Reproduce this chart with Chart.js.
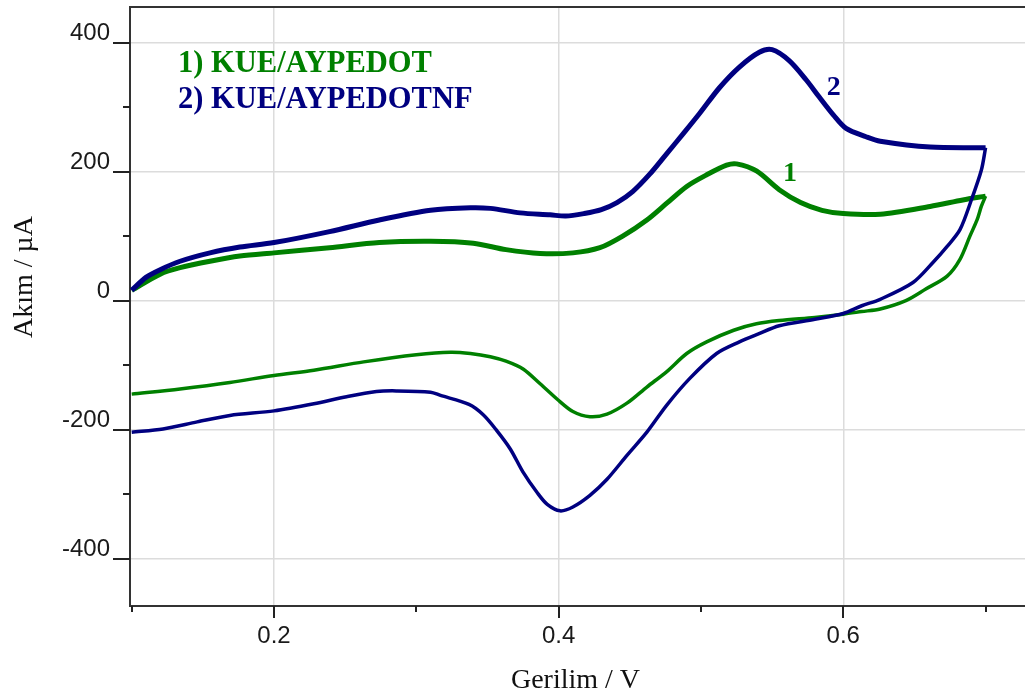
<!DOCTYPE html>
<html>
<head>
<meta charset="utf-8">
<script src="https://cdn.jsdelivr.net/npm/chart.js@4.4.1/dist/chart.umd.min.js"></script>
<style>
  html, body { margin: 0; padding: 0; background: #ffffff; overflow: hidden; }
  canvas { display: block; }
</style>
</head>
<body>
<canvas id="cv" width="1025" height="696"></canvas>
<script>
// Cyclic voltammograms: potential (V) and current (µA)
// Curve 2, KUE/AYPEDOTNF — anodic sweep
const nfFwdV = [0.100, 0.110, 0.120, 0.134, 0.155, 0.176, 0.200, 0.239, 0.274, 0.310, 0.338, 0.352, 0.373, 0.394, 0.405, 0.418, 0.430, 0.441, 0.452, 0.464, 0.476, 0.488, 0.499, 0.513, 0.527, 0.541, 0.550, 0.562, 0.574, 0.583, 0.593, 0.602, 0.616, 0.626, 0.661, 0.700];
const nfFwdI = [16, 36, 48, 61, 74, 83, 90, 107, 125, 140, 144, 143, 136, 133, 131, 135, 141, 152, 169, 196, 228, 260, 290, 330, 362, 385, 389, 372, 342, 316, 288, 267, 254, 247, 238, 237];
// Curve 2, KUE/AYPEDOTNF — cathodic sweep
const nfRevV = [0.700, 0.697, 0.690, 0.682, 0.673, 0.663, 0.649, 0.626, 0.613, 0.600, 0.580, 0.555, 0.540, 0.527, 0.511, 0.492, 0.476, 0.462, 0.448, 0.434, 0.422, 0.410, 0.401, 0.392, 0.385, 0.375, 0.366, 0.356, 0.347, 0.337, 0.317, 0.310, 0.286, 0.272, 0.251, 0.228, 0.200, 0.169, 0.146, 0.122, 0.100];
const nfRevI = [237, 202, 156, 110, 84, 59, 28, 2, -8, -20, -29, -39, -52, -64, -82, -121, -162, -204, -240, -277, -302, -320, -326, -316, -298, -266, -230, -200, -177, -161, -147, -142, -140, -141, -149, -160, -171, -178, -188, -199, -204];

// Curve 1, KUE/AYPEDOT — anodic sweep
const pFwdV = [0.100, 0.120, 0.134, 0.155, 0.176, 0.200, 0.239, 0.274, 0.310, 0.340, 0.363, 0.387, 0.410, 0.429, 0.445, 0.462, 0.476, 0.490, 0.504, 0.518, 0.525, 0.539, 0.555, 0.570, 0.585, 0.600, 0.626, 0.661, 0.684, 0.700];
const pFwdI = [16, 41, 51, 61, 69, 74, 82, 90, 92, 89, 79, 73, 74, 82, 100, 125, 151, 177, 195, 210, 212, 201, 172, 152, 140, 135, 134, 146, 156, 162];
// Curve 1, KUE/AYPEDOT — cathodic sweep
const pRevV = [0.700, 0.697, 0.694, 0.689, 0.682, 0.673, 0.658, 0.644, 0.626, 0.613, 0.600, 0.580, 0.555, 0.539, 0.523, 0.504, 0.490, 0.476, 0.462, 0.448, 0.434, 0.422, 0.410, 0.399, 0.387, 0.375, 0.363, 0.352, 0.338, 0.324, 0.300, 0.263, 0.228, 0.200, 0.169, 0.134, 0.100];
const pRevI = [162, 146, 125, 100, 64, 38, 18, 0, -13, -17, -21, -26, -31, -36, -46, -64, -82, -110, -134, -159, -176, -180, -172, -153, -129, -106, -94, -87, -82, -80, -84, -95, -108, -116, -127, -137, -145];

// Axis ticks (every tick gets a mark, labelled ones also get a grid line)
const xTicks = [0.1, 0.2, 0.3, 0.4, 0.5, 0.6, 0.7];
const xTickLabels = ['', '0.2', '', '0.4', '', '0.6', ''];
const yTicks = [-400, -300, -200, -100, 0, 100, 200, 300, 400];
const yTickLabels = ['-400', '', '-200', '', '0', '', '200', '', '400'];

const seriesNames = ['1) KUE/AYPEDOT', '2) KUE/AYPEDOTNF'];
const curveTags = ['1', '2'];
// where each curve tag sits, in data units (V, µA)
const curveTagV = [0.5577, 0.5884];
const curveTagI = [184.7, 318.8];

const GREEN = '#008000';
const NAVY = '#000080';

const toPoints = (xs, ys) => xs.map((x, i) => ({ x: x, y: ys[i] }));

const decorations = {
  id: 'decorations',
  afterDraw(chart) {
    const { ctx, chartArea: a, scales: { x, y } } = chart;
    ctx.save();
    // frame line along the top of the plot
    ctx.strokeStyle = '#333333';
    ctx.lineWidth = 2;
    ctx.beginPath();
    ctx.moveTo(a.left - 1, a.top);
    ctx.lineTo(a.right, a.top);
    ctx.stroke();

    // outward tick marks, long for labelled ticks, short otherwise
    ctx.strokeStyle = '#222222';
    ctx.lineWidth = 2;
    ctx.beginPath();
    x.ticks.forEach((t, i) => {
      const px = Math.round(x.getPixelForValue(t.value));
      const len = xTickLabels[i] ? 12 : 6;
      ctx.moveTo(px, a.bottom);
      ctx.lineTo(px, a.bottom + len);
    });
    y.ticks.forEach((t, i) => {
      const py = Math.round(y.getPixelForValue(t.value));
      const len = yTickLabels[i] ? 17 : 7;
      ctx.moveTo(a.left, py);
      ctx.lineTo(a.left - len, py);
    });
    ctx.stroke();

    // axis titles
    ctx.fillStyle = '#111111';
    ctx.font = '28px "Liberation Serif"';
    ctx.textAlign = 'center';
    ctx.textBaseline = 'alphabetic';
    ctx.fillText('Gerilim / V', (a.left + a.right) / 2 - 2, 688);
    ctx.save();
    ctx.translate(32, 277);
    ctx.rotate(-Math.PI / 2);
    ctx.fillText('Akım / µA', 0, 0);
    ctx.restore();

    // series captions
    ctx.textAlign = 'left';
    ctx.font = 'bold 30.5px "Liberation Serif"';
    ctx.fillStyle = GREEN;
    ctx.fillText(seriesNames[0], a.left + 48, 72);
    ctx.fillStyle = NAVY;
    ctx.fillText(seriesNames[1], a.left + 48, 108);

    // curve tags
    ctx.font = 'bold 28px "Liberation Serif"';
    [GREEN, NAVY].forEach((c, i) => {
      ctx.fillStyle = c;
      ctx.fillText(curveTags[i], x.getPixelForValue(curveTagV[i]), y.getPixelForValue(curveTagI[i]));
    });
    ctx.restore();
  }
};

const line = (data, color, width) => ({
  data: data,
  showLine: true,
  borderColor: color,
  backgroundColor: color,
  borderWidth: width,
  pointRadius: 0,
  tension: 0.3,
  fill: false
});

new Chart(document.getElementById('cv'), {
  type: 'scatter',
  data: {
    datasets: [
      line(toPoints(nfFwdV, nfFwdI), NAVY, 5),
      line(toPoints(nfRevV, nfRevI), NAVY, 3.5),
      line(toPoints(pFwdV, pFwdI), GREEN, 5),
      line(toPoints(pRevV, pRevI), GREEN, 3.5)
    ]
  },
  options: {
    responsive: false,
    devicePixelRatio: 1,
    animation: false,
    layout: { padding: { top: 7, right: 0, bottom: 0, left: 0 } },
    plugins: { legend: { display: false }, tooltip: { enabled: false } },
    scales: {
      x: {
        type: 'linear',
        min: 0.0988,
        max: 0.7277,
        afterBuildTicks: (s) => { s.ticks = xTicks.map(v => ({ value: v })); },
        afterFit: (s) => { s.height = 90; s.paddingLeft = 0; s.paddingRight = 0; },
        border: { display: true, color: '#333333', width: 2 },
        grid: {
          drawTicks: false,
          lineWidth: 1.5,
          color: (c) => (xTickLabels[c.index] ? '#dcdcdc' : 'rgba(0,0,0,0)')
        },
        ticks: {
          autoSkip: false,
          maxRotation: 0,
          padding: 16,
          color: '#1a1a1a',
          font: { family: 'Liberation Sans', size: 24 },
          callback: (v, i) => xTickLabels[i]
        }
      },
      y: {
        type: 'linear',
        min: -473.5,
        max: 455.2,
        afterBuildTicks: (s) => { s.ticks = yTicks.map(v => ({ value: v })); },
        afterFit: (s) => { s.width = 130; s.paddingTop = 0; s.paddingBottom = 0; },
        border: { display: true, color: '#333333', width: 2 },
        grid: {
          drawTicks: false,
          lineWidth: 1.5,
          color: (c) => (yTickLabels[c.index] ? '#dcdcdc' : 'rgba(0,0,0,0)')
        },
        ticks: {
          autoSkip: false,
          padding: 20,
          labelOffset: -9,
          color: '#1a1a1a',
          font: { family: 'Liberation Sans', size: 24 },
          callback: (v, i) => yTickLabels[i]
        }
      }
    }
  },
  plugins: [decorations]
});
</script>
</body>
</html>
